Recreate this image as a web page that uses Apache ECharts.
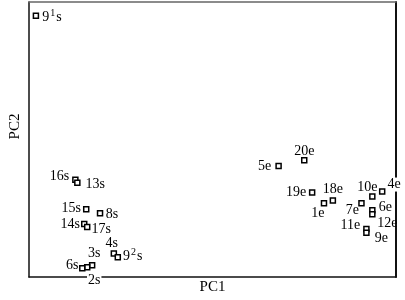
<!DOCTYPE html>
<html>
<head>
<meta charset="utf-8">
<script src="https://cdn.jsdelivr.net/npm/echarts@6/dist/echarts.min.js"></script>
<style>html,body{margin:0;padding:0;background:#fff}#c{width:405px;height:300px}</style>
</head>
<body>
<div id="c"></div>
<script>
// Sample labels and their scores on the first two principal components (arbitrary units)
var sampleNames = ['9¹s','16s','13s','15s','8s','14s','17s','4s','9²s','3s','2s','6s',
                   '5e','20e','19e','18e','1e','10e','4e','7e','6e','12e','11e','9e'];
var pc1 = [7,47,49,58,72,56,59,86,90,64,59,54,
           253,279,287,308,299,348,358,337,348,348,342,342];
var pc2 = [266,99,96,69,65,54,51,24,20,12,10,9,
           113,119,86,78,75,82,87,75,68,64,49,45];

// label placement (styling only): offset of text centre from the marker
var labelOffset = {
  '9¹s':[16,1],'16s':[-16,-3],'13s':[18,2],'15s':[-15,-1],'8s':[12,1],'14s':[-14,0],
  '17s':[14,2],'4s':[-2,-10],'9²s':[15,-2],'3s':[2,-12],'2s':[7,13],'6s':[-10,-3],
  '5e':[-14,0],'20e':[0,-9],'19e':[-16,0],'18e':[0,-11],'1e':[-6,10],'10e':[-5,-9],
  '4e':[12,-7],'7e':[-9,7],'6e':[13,-3],'12e':[15,9],'11e':[-16,-4],'9e':[15,6]
};
var whiteBg = {'2s':true,'4e':true};

var pts = sampleNames.map(function(n,i){
  var o = labelOffset[n] || [0,0];
  return {
    name:n, value:[pc1[i], pc2[i]],
    label:{offset:o, backgroundColor: whiteBg[n] ? '#fff' : 'transparent', padding: whiteBg[n]?[0,1]:0}
  };
});

function fmt(p){
  return p.name.replace('¹','{sup|1}').replace('²','{sup|2}').replace(/^([^{]*)\{/, '{base|$1}{')
    .replace(/\}([a-z]+)$/, '}{base|$1}');
}

var chart = echarts.init(document.getElementById('c'));
var lineStyleBlack = {color:'#111', width:1.5};
chart.setOption({
  animation:false,
  backgroundColor:'#fff',
  grid:{left:24,right:9,top:2,bottom:18},
  xAxis:[{
    type:'value', min:0, max:372, position:'bottom',
    axisLine:{show:true, onZero:false, lineStyle:lineStyleBlack},
    axisTick:{show:false}, axisLabel:{show:false}, splitLine:{show:false},
    name:'PC1', nameLocation:'middle', nameGap:3,
    nameTextStyle:{fontFamily:'Liberation Serif', fontSize:15, color:'#000'}
  },{
    type:'value', min:0, max:372, position:'top',
    axisLine:{show:true, onZero:false, lineStyle:{color:'#666', width:1.5}},
    axisTick:{show:false}, axisLabel:{show:false}, splitLine:{show:false}
  }],
  yAxis:[{
    type:'value', min:0, max:280, position:'left',
    axisLine:{show:true, onZero:false, lineStyle:lineStyleBlack},
    axisTick:{show:false}, axisLabel:{show:false}, splitLine:{show:false},
    name:'PC2', nameLocation:'middle', nameGap:6, nameRotate:90,
    nameTextStyle:{fontFamily:'Liberation Serif', fontSize:15, color:'#000', padding:[0,0,0,26]}
  },{
    type:'value', min:0, max:280, position:'right',
    axisLine:{show:true, onZero:false, lineStyle:{color:'#111', width:2}},
    axisTick:{show:false}, axisLabel:{show:false}, splitLine:{show:false}
  }],
  series:[{
    type:'scatter',
    xAxisIndex:0, yAxisIndex:0,
    symbol:'rect', symbolSize:5,
    itemStyle:{color:'#fff', borderColor:'#000', borderWidth:1.5, opacity:1},
    label:{
      show:true, position:'inside', align:'center', verticalAlign:'middle',
      formatter:function(p){ return p.name.indexOf('¹')>=0 || p.name.indexOf('²')>=0 ? fmt(p) : p.name; },
      fontFamily:'Liberation Serif', fontSize:14, color:'#000',
      rich:{
        base:{fontFamily:'Liberation Serif', fontSize:14, color:'#000', lineHeight:16, verticalAlign:'bottom'},
        sup:{fontFamily:'Liberation Serif', fontSize:10, color:'#000', lineHeight:16, verticalAlign:'top', padding:[0,1,6,1]}
      }
    },
    emphasis:{disabled:true},
    data:pts
  }]
});
</script>
</body>
</html>
